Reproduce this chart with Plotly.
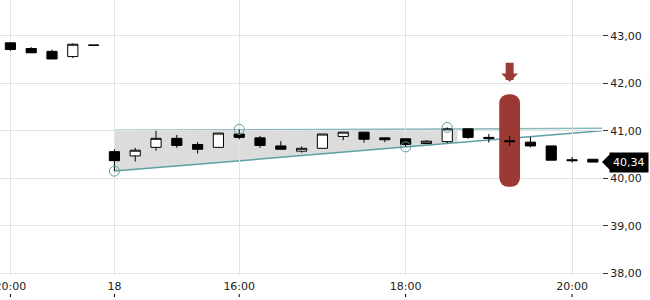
import plotly.graph_objects as go

# ---- data ----
idx = list(range(29))
open_ = [42.85, 42.73, 42.67, 42.56, 42.80,
         40.56, 40.47, 40.65, 40.84, 40.71, 40.65, 40.93, 40.85, 40.68, 40.57, 40.63,
         40.88, 40.97, 40.85, 40.83, 40.73, 40.77, 41.04, 40.86, 40.79, 40.76, 40.68,
         40.39, 40.40]
high = [42.85, 42.76, 42.71, 42.84, 42.80,
        40.61, 40.64, 41.00, 40.91, 40.76, 40.95, 41.03, 40.89, 40.78, 40.67, 40.93,
        40.97, 40.97, 40.85, 40.83, 40.80, 41.07, 41.04, 40.93, 40.89, 40.87, 40.68,
        40.45, 40.40]
low = [42.68, 42.64, 42.51, 42.53, 42.80,
       40.15, 40.35, 40.58, 40.64, 40.52, 40.65, 40.82, 40.64, 40.61, 40.54, 40.63,
       40.80, 40.75, 40.76, 40.66, 40.73, 40.74, 40.83, 40.75, 40.68, 40.65, 40.38,
       40.33, 40.34]
close = [42.71, 42.64, 42.51, 42.82, 42.80,
         40.37, 40.59, 40.84, 40.69, 40.61, 40.95, 40.86, 40.69, 40.61, 40.63, 40.93,
         40.97, 40.82, 40.81, 40.71, 40.78, 41.04, 40.86, 40.84, 40.77, 40.68, 40.38,
         40.37, 40.34]

tick_idx = [0, 5, 11, 19, 27]
tick_text = ["20:00", "18", "16:00", "18:00", "20:00"]
y_ticks = [38, 39, 40, 41, 42, 43]

# triangle pattern
upper_x = [5, 28.44]
upper_y = [41.01, 41.05]
lower_x = [5, 28.44]
lower_y = [40.15, 41.00]
fill_x = [5, 21.5]
fill_top = [41.01, 41.038]
fill_bottom = [40.15, 40.748]
pivot_x = [5, 11, 19, 21]
pivot_y = [40.15, 41.03, 40.66, 41.07]

# signal marker
signal_x = 24
signal_top = 41.77
signal_bottom = 39.82
arrow_tip = 42.03

last_price = 40.34

TEAL = "#5e9fa3"
TEAL2 = "#86b8bc"
RED = "#9b3a34"

fig = go.Figure()

# gray fill (beneath gridlines and candles)
poly = [(fill_x[0], fill_top[0]), (fill_x[1], fill_top[1]),
        (fill_x[1], fill_bottom[1]), (fill_x[0], fill_bottom[0])]
path = "M " + " L ".join(f"{px},{py}" for px, py in poly) + " Z"
fig.add_shape(type="path", path=path, xref="x", yref="y", layer="below",
              fillcolor="#dcdcdc", line=dict(width=0))
fig.add_shape(type="line", xref="x", yref="y", layer="below",
              x0=upper_x[0], y0=upper_y[0], x1=upper_x[1], y1=upper_y[1],
              line=dict(color=TEAL2, width=1.5))
fig.add_shape(type="line", xref="x", yref="y", layer="below",
              x0=lower_x[0], y0=lower_y[0], x1=lower_x[1], y1=lower_y[1],
              line=dict(color=TEAL, width=1.5))

# red signal bar
fig.add_trace(go.Bar(x=[signal_x], y=[signal_top - signal_bottom], base=[signal_bottom],
                     width=1.0, marker=dict(color=RED, cornerradius=9, line=dict(width=0)),
                     hoverinfo="skip", showlegend=False))

fig.add_trace(go.Candlestick(
    x=idx, open=open_, high=high, low=low, close=close,
    increasing=dict(line=dict(color="#000000", width=1), fillcolor="#ffffff"),
    decreasing=dict(line=dict(color="#000000", width=1), fillcolor="#000000"),
    whiskerwidth=0, showlegend=False))

fig.add_trace(go.Scatter(x=pivot_x, y=pivot_y, mode="markers",
                         marker=dict(symbol="circle-open", size=10, color=TEAL,
                                     line=dict(width=1)), hoverinfo="skip", showlegend=False))

# x tick marks below labels
for t in tick_idx:
    fig.add_annotation(x=t, xref="x", y=-0.08, yref="paper", text=" ",
                       font=dict(size=1), showarrow=True, ax=0, ay=-5,
                       arrowhead=0, arrowwidth=1, arrowcolor="#000000", standoff=0)

# arrow above signal
fig.add_annotation(x=signal_x, y=arrow_tip, xref="x", yref="y", text=" ",
                   font=dict(size=1), showarrow=True, ax=0, ay=-21,
                   arrowhead=1, arrowwidth=8, arrowsize=0.35, arrowcolor=RED, standoff=0)

# last price tag
fig.add_annotation(x=1, xref="paper", y=last_price, yref="y", text="40,34",
                   font=dict(family="DejaVu Sans", size=11, color="#ffffff"),
                   bgcolor="#000000", borderpad=3, showarrow=True, ax=27, ay=0,
                   arrowhead=1, arrowwidth=1, arrowsize=2.8, arrowcolor="#000000",
                   standoff=0, xanchor="center")

fig.update_layout(
    width=650, height=300,
    margin=dict(l=0, r=48, t=0, b=25, autoexpand=False),
    paper_bgcolor="#ffffff", plot_bgcolor="#ffffff",
    font=dict(family="DejaVu Sans", size=11, color="#222222"),
    barmode="overlay", separators=",.",
    showlegend=False,
    xaxis=dict(range=[-0.5, 28.44], tickvals=tick_idx, ticktext=tick_text,
               showgrid=True, gridcolor="#e2e2e2", gridwidth=1, ticks="",
               zeroline=False, showline=False, rangeslider=dict(visible=False),
               ticklabeloverflow="allow", ticklabelstandoff=3, automargin=False,
               tickfont=dict(size=11, color="#222222")),
    yaxis=dict(range=[37.964, 43.751], side="right", tickvals=y_ticks, tickformat=".2f",
               showgrid=True, gridcolor="#e2e2e2", gridwidth=1, ticks="outside",
               ticklen=5, tickcolor="#333333", zeroline=False, showline=False,
               automargin=False, tickfont=dict(size=11, color="#222222")),
)

fig.write_html("out.html")
